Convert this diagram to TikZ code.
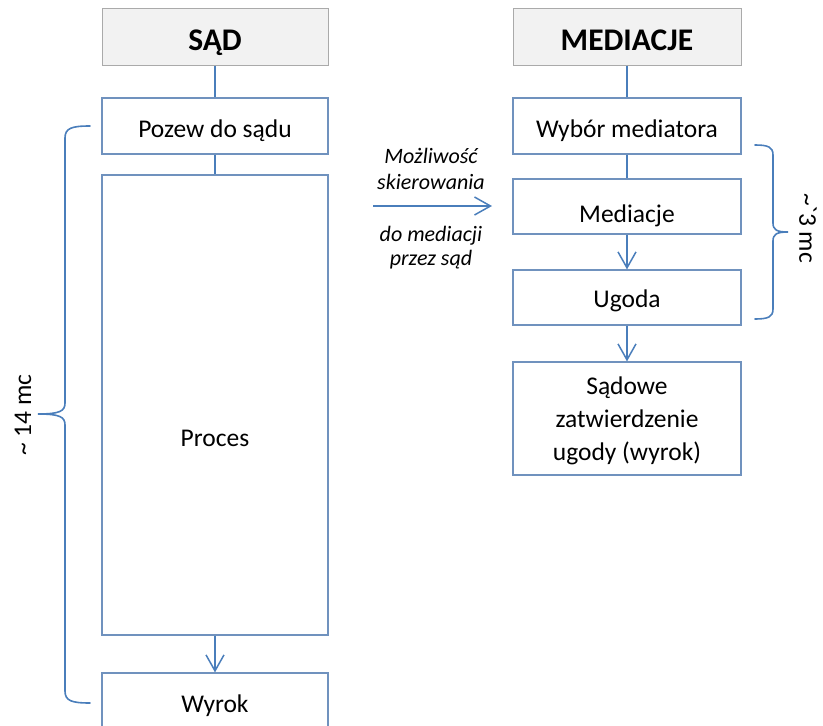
\documentclass[tikz,border=0pt]{standalone}
\usepackage{fontspec}
\setmainfont{Carlito}
\usetikzlibrary{arrows.meta}
\definecolor{conn}{RGB}{74,126,187}
\definecolor{boxline}{RGB}{112,146,190}
\definecolor{headfill}{RGB}{242,242,242}
\definecolor{headline}{RGB}{170,170,170}
\tikzset{
  headbox/.style={draw=headline, fill=headfill, line width=1pt, minimum height=57pt, inner sep=0pt},
  headtext/.style={anchor=base, inner sep=0pt, font=\fontsize{31.5}{36}\selectfont\bfseries},
  stepbox/.style={draw=boxline, fill=white, line width=1.2pt, inner sep=0pt},
  steptext/.style={anchor=base, inner sep=0pt, font=\fontsize{25.5}{33}\selectfont, align=center},
  lbox/.style={stepbox, minimum width=226pt},
  rbox/.style={stepbox, minimum width=228pt},
  link/.style={draw=conn, line width=1.5pt},
  arr/.style={link, -{Straight Barb[length=16pt,width=18pt,line width=1.5pt]}},
  brace/.style={draw=conn, line width=1.6pt, line cap=round},
  note/.style={anchor=base, font=\fontsize{22}{25}\selectfont\itshape, inner sep=0pt},
  side/.style={font=\fontsize{25.5}{29}\selectfont, inner sep=0pt}
}
\begin{document}
\begin{tikzpicture}[x=1pt,y=-1pt]
\useasboundingbox (0,0) rectangle (823,726);
% left column
\node[headbox, minimum width=226pt] (sad) at (215,36.5) {};
\node[headtext] (sadt) at (215,50) {SĄD};
\node[lbox, minimum height=56pt] (pozew) at (215,126) {};
\node[steptext] (pozewt) at (215,137) {Pozew do sądu};
\node[lbox, minimum height=460pt] (proces) at (215,405) {};
\node[steptext] (procest) at (215,446) {Proces};
\node[lbox, minimum height=64pt] (wyrok) at (215,705) {};
\node[steptext] (wyrokt) at (215,712) {Wyrok};
% right column
\node[headbox, minimum width=228pt] (medh) at (627,36.5) {};
\node[headtext] (medht) at (627,50) {MEDIACJE};
\node[rbox, minimum height=56pt] (wybor) at (627,126) {};
\node[steptext] (wybort) at (627,137) {Wybór mediatora};
\node[rbox, minimum height=55pt] (medi) at (627,206.5) {};
\node[steptext] (medit) at (627,222) {Mediacje};
\node[rbox, minimum height=55pt] (ugoda) at (627,297.5) {};
\node[steptext] (ugodat) at (627,307) {Ugoda};
\node[rbox, minimum height=113pt] (sadowe) at (627,418.5) {};
\node[steptext, anchor=north] (sadowet) at (627,377) {Sądowe\\zatwierdzenie\\ugody (wyrok)};
% connectors
\draw[link] (sad) -- (pozew);
\draw[link] (pozew) -- (proces);
\draw[arr] (proces) -- (wyrok);
\draw[link] (medh) -- (wybor);
\draw[link] (wybor) -- (medi);
\draw[arr] (medi) -- (ugoda);
\draw[arr] (ugoda) -- (sadowe);
% middle arrow
\coordinate (ma) at (373,206);
\coordinate (mb) at (492,206);
\draw[arr] (ma) -- (mb);
\node[note] (t1) at (431,163) {Możliwość};
\node[note] (t2) at (431,189) {skierowania};
\node[note] (t3) at (431,241) {do mediacji};
\node[note] (t4) at (431,265) {przez sąd};
% left brace
\draw[brace] (90,126) .. controls (72,126) and (65,128) .. (65,138) -- (65,403)
  .. controls (65,411) and (60,414) .. (38,414)
  .. controls (60,414) and (65,417) .. (65,425) -- (65,691)
  .. controls (65,701) and (72,703) .. (90,703);
\node[side, rotate=90] (l14) at (23,415) {\textasciitilde{} 14 mc};
% right brace
\draw[brace] (755,145) .. controls (768,145) and (773,147) .. (773,155) -- (773,223)
  .. controls (773,230) and (777,232) .. (788,232)
  .. controls (777,232) and (773,234) .. (773,241) -- (773,309)
  .. controls (773,317) and (768,319) .. (755,319);
\node[side, rotate=-90] (l3) at (808,228) {\textasciitilde\textasciigrave 3 mc};
\end{tikzpicture}
\end{document}
